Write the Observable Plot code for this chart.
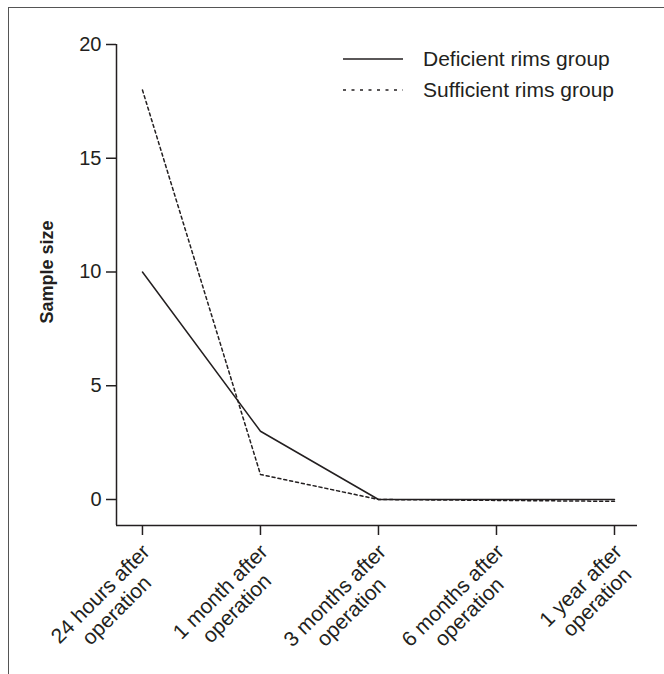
<!DOCTYPE html>
<html>
<head>
<meta charset="utf-8">
<script src="https://cdn.jsdelivr.net/npm/d3@7"></script>
<script src="https://cdn.jsdelivr.net/npm/@observablehq/plot@0.6"></script>
<style>
  html, body { margin: 0; padding: 0; background: #fff; }
  #wrap { position: relative; width: 664px; height: 674px; overflow: hidden; font-family: "Liberation Sans", Arial, sans-serif; color: #231f20; }
  #border { position: absolute; left: 8px; top: 7px; right: -10px; bottom: -10px; border-top: 1.5px solid #555; border-left: 1.5px solid #555; pointer-events: none; }
  #legend { position: absolute; left: 343px; top: 43px; font-size: 21px; }
  #legend .row { display: flex; align-items: center; height: 31px; }
  #legend svg { margin-right: 20px; }
  #ylabel { position: absolute; left: 47px; top: 272px; transform: translate(-50%, -50%) rotate(-90deg); font-weight: bold; font-size: 18px; white-space: nowrap; }
</style>
</head>
<body>
<div id="wrap">
  <div id="chart"></div>
  <div id="border"></div>
  <div id="ylabel">Sample size</div>
  <div id="legend"></div>
</div>
<script>
const categories = [
  "24 hours after\noperation",
  "1 month after\noperation",
  "3 months after\noperation",
  "6 months after\noperation",
  "1 year after\noperation"
];
const deficient = [10, 3, 0, 0, 0];
const sufficient = [18, 1.1, 0, -0.04, -0.08];
const yTicks = [0, 5, 10, 15, 20];
const seriesNames = ["Deficient rims group", "Sufficient rims group"];

const ink = "#231f20";
const idx = categories.map((_, i) => i);
const xMin = -0.22, xMax = 4.195;
const yMin = -1.143, yMax = 20;

const rowsD = idx.map(i => ({i, v: deficient[i], s: seriesNames[0]}));
const rowsS = idx.map(i => ({i, v: sufficient[i], s: seriesNames[1]}));

const chart = Plot.plot({
  width: 664,
  height: 674,
  marginLeft: 116,
  marginRight: 27,
  marginTop: 44,
  marginBottom: 149,
  x: {domain: [xMin, xMax], axis: null},
  y: {domain: [yMin, yMax], axis: null},
  style: {fontFamily: "'Liberation Sans', Arial, sans-serif", color: ink, background: "transparent", overflow: "visible"},
  marks: [
    Plot.ruleX([xMin], {y1: yMin, y2: yMax, stroke: ink, strokeWidth: 1.5}),
    Plot.ruleY([yMin], {x1: xMin, x2: xMax, stroke: ink, strokeWidth: 1.5}),
    Plot.axisY({ticks: yTicks, anchor: "left", label: null, tickSize: 10, tickPadding: 5, fontSize: 20, stroke: ink, strokeWidth: 1.5, fill: ink}),
    Plot.axisX({ticks: idx, anchor: "bottom", label: null, tickSize: 10, tickFormat: () => "", stroke: ink, strokeWidth: 1.5}),
    Plot.text(idx, {
      x: d => d, frameAnchor: "bottom", text: d => categories[d],
      rotate: -45, textAnchor: "end", lineAnchor: "top", lineHeight: 1.1,
      dy: 16, dx: -3, fontSize: 21, fill: ink, className: "xlabels"
    }),
    Plot.line(rowsD, {x: "i", y: "v", stroke: ink, strokeWidth: 1.5}),
    Plot.line(rowsS, {x: "i", y: "v", stroke: ink, strokeWidth: 1.5, strokeDasharray: "3,3"})
  ]
});
document.getElementById("chart").appendChild(chart);

// center the lines of each tick label on its longest line (longest line ends at the tick)
chart.querySelectorAll(".xlabels text").forEach(t => {
  const spans = Array.from(t.querySelectorAll("tspan"));
  if (!spans.length) return;
  const w = Math.max(...spans.map(s => s.getComputedTextLength()));
  t.setAttribute("text-anchor", "middle");
  spans.forEach(s => s.setAttribute("x", -w / 2));
});

const legend = document.getElementById("legend");
seriesNames.forEach((name, k) => {
  const row = document.createElement("div");
  row.className = "row";
  row.innerHTML = `<svg width="60" height="4"><line x1="0" x2="60" y1="2" y2="2" stroke="${ink}" stroke-width="1.5" ${k === 1 ? 'stroke-dasharray="3,5.5"' : ''}/></svg><span>${name}</span>`;
  legend.appendChild(row);
});
</script>
</body>
</html>
